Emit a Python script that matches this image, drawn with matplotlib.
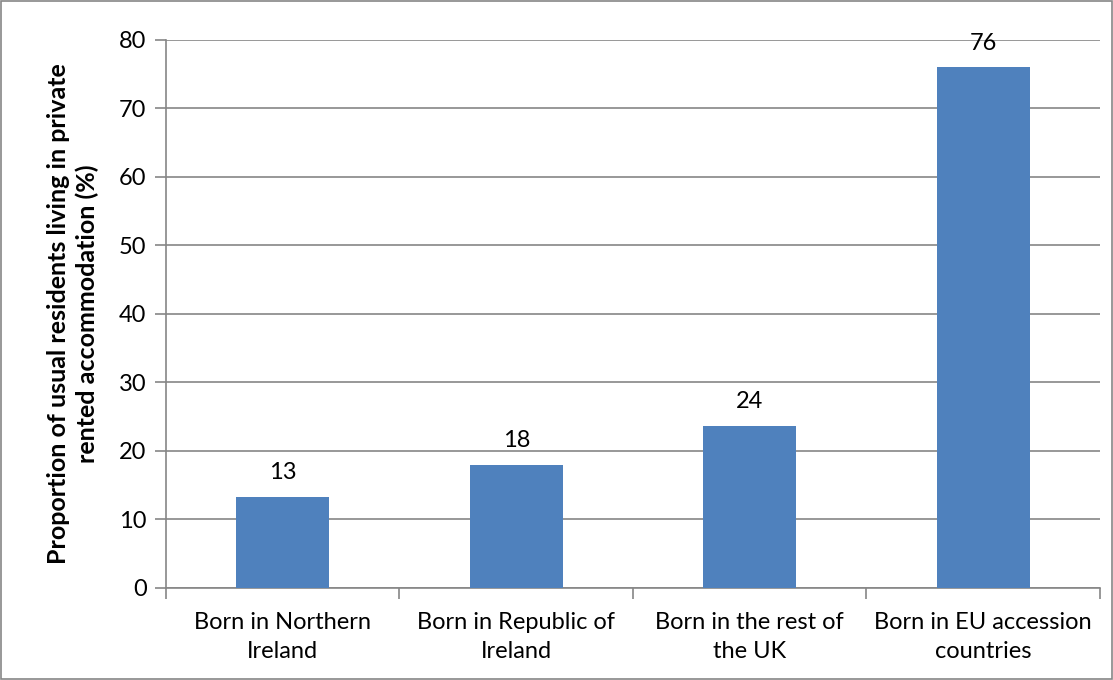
import matplotlib.pyplot as plt
import numpy as np

categories = ['Born in Northern\nIreland', 'Born in Republic of\nIreland',
              'Born in the rest of\nthe UK', 'Born in EU accession\ncountries']
values = [13.3, 18.0, 23.7, 76.0]
labels = ['13', '18', '24', '76']
yticks = [0, 10, 20, 30, 40, 50, 60, 70, 80]

plt.rcParams['font.family'] = ['Lato', 'DejaVu Sans']
grey = '#868686'

fig = plt.figure(figsize=(11.13, 6.8), dpi=100)
ax = fig.add_axes([0.1491, 0.1353, 0.8392, 0.8059])

x = np.arange(len(categories))
bars = ax.bar(x, values, width=0.4, color='#4F81BD', zorder=3)
for b, lab in zip(bars, labels):
    ax.text(b.get_x() + b.get_width() / 2, b.get_height() + 2.0, lab,
            ha='center', va='bottom', fontsize=17)

ax.set_xlim(-0.5, 3.5)
ax.set_ylim(0, 80)
ax.set_yticks(yticks)
ax.set_yticklabels([str(t) for t in yticks], fontsize=17)
ax.yaxis.grid(True, color=grey, linewidth=1.2, zorder=0)

# category labels in the middle, tick marks between categories
ax.set_xticks(x)
ax.set_xticklabels(categories, fontsize=17, linespacing=1.5)
ax.tick_params(axis='x', length=0, pad=17)
ax.set_xticks(np.arange(-0.5, 4, 1), minor=True)
ax.tick_params(axis='x', which='minor', length=8, color=grey, width=1.2)
ax.tick_params(axis='y', length=8, color=grey, width=1.2, pad=6)

for s in ['top', 'right']:
    ax.spines[s].set_visible(False)
for s in ['left', 'bottom']:
    ax.spines[s].set_color(grey)
    ax.spines[s].set_linewidth(1.2)

ax.set_ylabel('Proportion of usual residents living in private\nrented accommodation (%)',
              fontsize=18, fontweight='bold', labelpad=14, linespacing=1.3)

fig.patches.append(plt.Rectangle((0.0008, 0.001), 0.9984, 0.998, transform=fig.transFigure,
                                 fill=False, edgecolor=grey, linewidth=1.2))

fig.savefig('out.png', dpi=100)
